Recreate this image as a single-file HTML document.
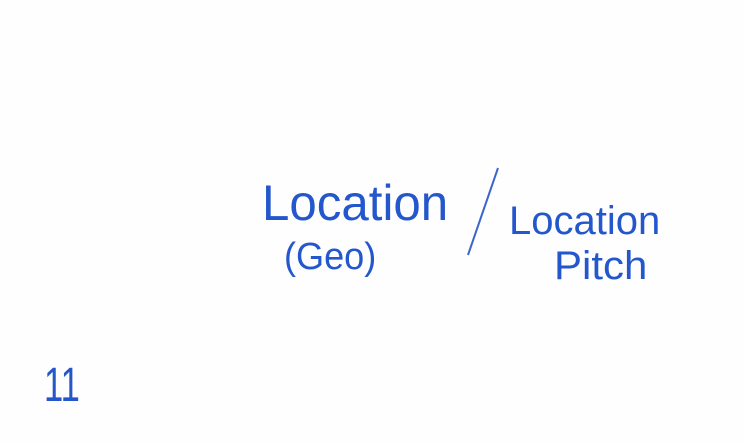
<!DOCTYPE html>
<html><head><meta charset="utf-8"><style>
html,body{margin:0;padding:0;background:#fdfdfd;}
#card{position:relative;width:745px;height:443px;overflow:hidden;background:#fefefe;font-family:"Liberation Sans",sans-serif;color:#2457cc;}
.t{position:absolute;white-space:nowrap;transform-origin:0 0;font-weight:normal;}
</style></head><body>
<div id="card">
  <div class="t" style="left:262px;top:174px;font-size:50px;transform:scaleX(0.985);">Location</div>
  <div class="t" style="left:284px;top:236px;font-size:38px;transform:scaleX(0.95);">(Geo)</div>
  <svg style="position:absolute;left:0;top:0" width="745" height="443">
    <line x1="498" y1="168" x2="468" y2="255" stroke="#3a66cc" stroke-width="2"/>
  </svg>
  <div class="t" style="left:509px;top:199px;font-size:40px;transform:scaleX(1.0);">Location</div>
  <div class="t" style="left:554px;top:244px;font-size:40px;transform:scaleX(1.05);">Pitch</div>
  <div class="t" style="left:44px;top:358px;font-size:48px;transform:scaleX(0.72);">11</div>
</div>
</body></html>
